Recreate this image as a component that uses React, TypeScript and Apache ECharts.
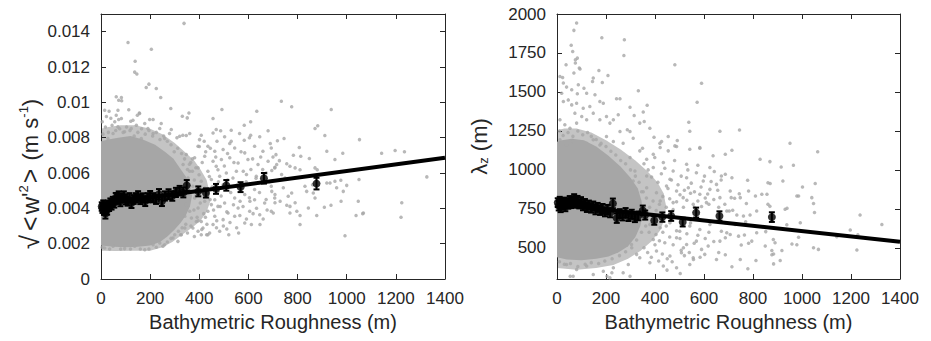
import React, { useEffect, useRef } from "react";
import * as echarts from "echarts";

const xTicks = [0, 200, 400, 600, 800, 1000, 1200, 1400];
const leftYTicks = [0, 0.002, 0.004, 0.006, 0.008, 0.01, 0.012, 0.014];
const rightYTicks = [500, 750, 1000, 1250, 1500, 1750, 2000];

const xTitle = "Bathymetric Roughness (m)";
const leftYTitle = "{sq|√}{op|<}{big|w'}{sup|2}{op|>} (m s{sup|-1})";
const rightYTitle = "λ{sub|z} (m)";

// speckled halo around the dense part of the left cloud (outline)
const leftHalo: [number, number][] = [
  [0, 0.0016], [60, 0.00158], [130, 0.0016], [200, 0.0016], [250, 0.0018], [290, 0.0021], [330, 0.0025],
  [370, 0.0029], [405, 0.0033], [430, 0.0038], [445, 0.0044], [440, 0.005], [430, 0.0056], [405, 0.0062],
  [380, 0.0067], [340, 0.0072], [300, 0.0077], [250, 0.0082], [200, 0.0085], [140, 0.0087], [80, 0.0087],
  [30, 0.0086], [0, 0.0085],
];
// dense solid core of the left cloud (outline)
const leftCore: [number, number][] = [
  [0, 0.0019], [50, 0.00182], [100, 0.0018], [150, 0.00182], [200, 0.0019], [240, 0.0021], [270, 0.0024],
  [300, 0.0028], [325, 0.0032], [345, 0.0036], [362, 0.0041], [370, 0.0047], [362, 0.0053], [345, 0.0058],
  [320, 0.0063], [295, 0.0068], [260, 0.0072], [220, 0.0076], [170, 0.0079], [120, 0.0081], [70, 0.008],
  [30, 0.0079], [0, 0.0078],
];

const leftScatter: [number, number][] = [
  [338, 0.01447], [110, 0.01339], [205, 0.01301], [139, 0.01233], [137, 0.01171], [146, 0.0116], [195, 0.01103],
  [184, 0.01084], [225, 0.01078], [243, 0.01027], [62, 0.01031], [83, 0.01027], [72, 0.01012], [84, 0.01009],
  [15, 0.00955], [33, 0.0095], [69, 0.00955], [113, 0.00958], [284, 0.00965], [156, 0.0094], [148, 0.00927],
  [331, 0.00921], [351, 0.00912], [358, 0.0094], [492, 0.00959], [456, 0.00908], [634, 0.0095], [609, 0.0089],
  [583, 0.0087], [680, 0.00839], [469, 0.00846], [487, 0.00839], [530, 0.00842], [564, 0.00823], [456, 0.00827],
  [609, 0.00814], [646, 0.00805], [689, 0.00767], [503, 0.00805], [530, 0.0078], [524, 0.00767], [583, 0.00785],
  [604, 0.008], [408, 0.00814], [401, 0.00789], [361, 0.00823], [347, 0.00812], [333, 0.00814], [286, 0.00846],
  [279, 0.00823], [309, 0.008], [320, 0.00808], [56, 0.0089], [72, 0.00903], [83, 0.00908], [62, 0.00927],
  [121, 0.00893], [130, 0.00899], [157, 0.00937], [178, 0.0088], [198, 0.00903], [212, 0.00903], [245, 0.0088],
  [239, 0.00852], [28, 0.00795], [49, 0.00823], [96, 0.00833], [123, 0.00852], [164, 0.00795], [212, 0.00823],
  [259, 0.00795], [69, 0.00861], [191, 0.00852], [144, 0.0087],
  [734, 0.01006], [776, 0.00975], [937, 0.00959], [871, 0.00852], [882, 0.00867], [911, 0.00812], [1052, 0.00789],
  [718, 0.00782], [745, 0.00795], [807, 0.00744],
  [919, 0.00723], [984, 0.00712], [1142, 0.00712], [1197, 0.00727], [1235, 0.0072], [712, 0.00704], [726, 0.0067],
  [715, 0.00648], [708, 0.00632], [783, 0.007], [813, 0.00695], [848, 0.00682], [952, 0.00676], [756, 0.00652],
  [769, 0.00638], [790, 0.00629], [810, 0.00619], [695, 0.00614], [735, 0.00591], [749, 0.00572], [871, 0.00629],
  [880, 0.00619], [1326, 0.00578], [1050, 0.00563], [919, 0.00544], [932, 0.00544], [952, 0.00553], [976, 0.00559],
  [830, 0.00525], [837, 0.00496], [861, 0.00534], [864, 0.00487], [871, 0.00459], [959, 0.00516], [986, 0.00496],
  [1000, 0.0053], [695, 0.00496], [708, 0.00478], [742, 0.00516], [776, 0.00487], [762, 0.00468], [708, 0.00431],
  [729, 0.0044], [756, 0.00417], [769, 0.00411], [790, 0.00431], [701, 0.00374], [769, 0.00374], [797, 0.00383],
  [810, 0.00359], [844, 0.00402], [878, 0.0036], [909, 0.00406], [936, 0.00417], [977, 0.0044], [1047, 0.0044],
  [1038, 0.00359], [1065, 0.0037], [1224, 0.00431], [1221, 0.00349], [810, 0.00308], [993, 0.00245],
  [395, 0.00752], [435, 0.00752], [463, 0.00723], [497, 0.00733], [544, 0.00742], [585, 0.00714], [625, 0.00752],
  [659, 0.00723], [693, 0.00742], [381, 0.00686], [422, 0.00695], [456, 0.00667], [490, 0.00676], [524, 0.00686],
  [558, 0.00657], [598, 0.00676], [639, 0.00648], [680, 0.00667], [707, 0.00629], [395, 0.00629], [435, 0.0061],
  [476, 0.00619], [510, 0.006], [551, 0.0061], [592, 0.00591], [632, 0.00582], [673, 0.006], [354, 0.00572],
  [408, 0.00553], [449, 0.00563], [497, 0.00534], [537, 0.00572], [381, 0.00459], [422, 0.0044], [463, 0.00449],
  [503, 0.0043], [544, 0.00459], [585, 0.00478], [625, 0.00449], [666, 0.0043], [707, 0.00459], [395, 0.00402],
  [435, 0.00383], [476, 0.00411], [517, 0.00374], [558, 0.00402], [605, 0.00383], [646, 0.00364], [693, 0.00383],
  [368, 0.00345], [408, 0.00326], [456, 0.00308], [497, 0.00336], [544, 0.00355], [585, 0.00317], [612, 0.00308],
  [341, 0.00289], [395, 0.0027], [435, 0.00251], [483, 0.0027], [327, 0.00251], [313, 0.00213], [293, 0.00232],
  [259, 0.00194], [239, 0.00204], [571, 0.00515], [625, 0.00506], [693, 0.00525], [476, 0.00497], [435, 0.00487],
  [334, 0.00648], [347, 0.00705], [361, 0.0061], [374, 0.00525], [347, 0.00421], [361, 0.00383], [388, 0.00326],
  [415, 0.00289], [341, 0.00355], [327, 0.0044], [320, 0.00534], [334, 0.00478], [374, 0.00289], [408, 0.00251],
  [422, 0.00515], [449, 0.00421], [463, 0.00355], [483, 0.00582], [469, 0.00638],
  [15, 0.00176], [49, 0.00185], [96, 0.00172], [137, 0.00185], [178, 0.00166], [212, 0.00194], [252, 0.00185],
  [430, 0.0025], [512, 0.00283], [647, 0.00308], [324, 0.00251], [1068, 0.00374],
  [372, 0.0068], [386, 0.0063], [399, 0.0059], [412, 0.0066], [426, 0.0072], [441, 0.0058], [452, 0.0052],
  [467, 0.0069], [478, 0.0055], [489, 0.0047], [502, 0.0064], [515, 0.0056], [528, 0.0049], [541, 0.0066],
  [553, 0.0053], [566, 0.0044], [579, 0.0061], [591, 0.0055], [604, 0.0046], [617, 0.0068], [631, 0.0057],
  [645, 0.0049], [658, 0.0062], [672, 0.0045], [686, 0.0055],
  [378, 0.0039], [391, 0.0035], [404, 0.0043], [418, 0.0037], [431, 0.0031], [444, 0.0045], [458, 0.0039],
  [471, 0.0033], [485, 0.0041], [498, 0.003], [512, 0.0038], [525, 0.0032], [539, 0.0042], [552, 0.0029],
  [565, 0.0036], [578, 0.0041], [592, 0.0034], [606, 0.0044], [619, 0.0037], [633, 0.004], [660, 0.0034], [676, 0.0039],
  [352, 0.0026], [366, 0.003], [380, 0.0024], [395, 0.0033], [410, 0.0028], [425, 0.0035], [442, 0.0026],
  [470, 0.0029], [520, 0.0025], [560, 0.0026],
  [365, 0.0066], [352, 0.0062], [340, 0.0068], [328, 0.0071], [312, 0.0074], [298, 0.0072], [285, 0.0076],
  [270, 0.0078], [255, 0.0081], [240, 0.0079], [225, 0.0083], [210, 0.0081], [195, 0.0084], [180, 0.0082],
  [165, 0.0085], [150, 0.0083], [135, 0.0081], [118, 0.0084], [104, 0.0086], [90, 0.0083], [76, 0.0085],
  [60, 0.0084], [45, 0.0087], [30, 0.0083], [18, 0.0086], [8, 0.0082], [5, 0.0089], [22, 0.0092], [40, 0.0091],
  [385, 0.0047], [392, 0.0052], [380, 0.0056], [372, 0.0061], [360, 0.0065],
  [270, 0.0021], [285, 0.0023], [300, 0.0025], [315, 0.0027], [330, 0.0029], [345, 0.0031], [225, 0.0018],
  [195, 0.0017], [160, 0.0017], [120, 0.0017], [80, 0.0017], [35, 0.0017], [5, 0.0018],
  [400, 0.0075], [420, 0.0078], [445, 0.0074], [472, 0.0078], [515, 0.0071], [570, 0.0072], [610, 0.0062],
  [650, 0.0069], [700, 0.0069],
];

const leftBinX = [3, 6, 9, 12, 15, 18, 21, 25, 29, 33, 38, 43, 48, 54, 60, 66, 72, 79, 86, 93, 100, 108, 116, 124, 133,
  142, 151, 160, 170, 180, 190, 200, 212, 224, 236, 248, 260, 275, 290, 305, 320, 335, 349, 396, 427, 468, 510, 568, 663, 877];
const leftBinY = [0.0041, 0.004, 0.0042, 0.0039, 0.0041, 0.0037, 0.004, 0.0039, 0.0042, 0.0041,
  0.0043, 0.0042, 0.0044, 0.0043, 0.0046, 0.0045, 0.0047, 0.0044, 0.0046, 0.0047,
  0.0045, 0.0044, 0.0046, 0.0043, 0.0045, 0.0046, 0.0047, 0.0045, 0.0046, 0.0044,
  0.0046, 0.0047, 0.0046, 0.0045, 0.0048, 0.0044, 0.0047, 0.0048, 0.0047, 0.0049,
  0.005, 0.0049, 0.0053, 0.00496, 0.00487, 0.0051, 0.0053, 0.0052, 0.0057, 0.0054];
const leftBinErr = [0.00024, 0.00026, 0.00025, 0.00027, 0.00024, 0.00028, 0.00025, 0.00026, 0.00024, 0.00025,
  0.00026, 0.00027, 0.00025, 0.00026, 0.00027, 0.00025, 0.00026, 0.00028, 0.00025, 0.00026,
  0.00027, 0.00025, 0.00026, 0.00028, 0.00025, 0.00026, 0.00027, 0.00026, 0.00025, 0.00027,
  0.00026, 0.00028, 0.00026, 0.00025, 0.00029, 0.00027, 0.00026, 0.00028, 0.00027, 0.00026,
  0.00027, 0.00028, 0.0003, 0.00028, 0.00026, 0.00028, 0.0003, 0.00028, 0.0003, 0.00033];
const leftFitX = [0, 1400];
const leftFitY = [0.00424, 0.00686];

const rightHalo: [number, number][] = [
  [0, 370], [80, 360], [160, 370], [230, 390], [290, 430], [340, 480], [385, 540], [420, 610], [440, 690],
  [445, 770], [435, 850], [410, 920], [370, 990], [320, 1060], [260, 1130], [200, 1190], [140, 1240], [80, 1265],
  [30, 1265], [0, 1255],
];
const rightCore: [number, number][] = [
  [0, 440], [40, 425], [100, 420], [160, 430], [210, 445], [250, 470], [290, 510], [320, 570], [340, 640],
  [350, 720], [345, 800], [330, 880], [300, 950], [260, 1020], [210, 1090], [160, 1150], [110, 1190], [60, 1200],
  [20, 1190], [0, 1180],
];

const rightScatter: [number, number][] = [
  [80, 1942], [69, 1895], [183, 1848], [275, 1835], [58, 1799], [64, 1760], [273, 1734], [83, 1717], [75, 1707],
  [91, 1653], [37, 1674], [481, 1674], [75, 1685], [94, 1647], [69, 1621], [171, 1638], [208, 1606], [12, 1599],
  [23, 1593], [148, 1589], [145, 1567], [185, 1561], [590, 1556], [26, 1557], [39, 1531], [60, 1514], [19, 1492],
  [87, 1546], [110, 1524], [121, 1492], [83, 1488], [332, 1507], [243, 1456], [257, 1456], [155, 1482], [175, 1439],
  [189, 1428], [572, 1434], [298, 1402], [368, 1415], [352, 1372], [315, 1349], [26, 1439], [46, 1449], [60, 1417],
  [80, 1428], [107, 1396], [134, 1407], [73, 1364], [101, 1342], [121, 1321], [148, 1364], [12, 1321], [32, 1289],
  [53, 1267], [80, 1300], [175, 1321], [202, 1342], [216, 1300], [230, 1321], [250, 1353], [338, 1300], [356, 1310],
  [379, 1267], [538, 1306], [542, 1248], [665, 1248], [257, 1246], [298, 1246], [287, 1257], [396, 1210], [427, 1182],
  [420, 1171], [454, 1214], [491, 1188], [311, 1203], [270, 1171], [230, 1182], [202, 1214], [175, 1160], [148, 1193],
  [121, 1171], [66, 1182], [39, 1160], [12, 1193], [583, 1139], [488, 1150], [349, 1139],
  [714, 1126], [1064, 1117], [687, 1100], [829, 1068], [869, 1053], [915, 1019], [965, 1030], [687, 972], [714, 950],
  [778, 933], [861, 918], [870, 912], [922, 929], [1002, 890], [1054, 912], [707, 865], [744, 847], [782, 865],
  [810, 833], [836, 843], [857, 843], [711, 822], [725, 818], [748, 822], [773, 784], [979, 833], [986, 833],
  [1040, 822], [931, 747], [939, 754], [1047, 784], [1051, 726], [693, 736], [703, 736], [717, 741], [734, 711],
  [761, 704], [788, 711], [815, 736], [861, 779], [869, 766], [687, 661], [727, 650], [770, 667], [938, 648],
  [993, 661], [1237, 711], [1326, 650], [1197, 615], [1228, 583], [693, 597], [707, 586], [687, 565], [741, 575],
  [765, 582], [752, 518], [782, 529], [815, 597], [852, 604], [795, 543], [883, 554], [890, 533], [986, 568],
  [959, 525], [979, 520], [1047, 500], [1067, 490], [1224, 486], [850, 511], [877, 483], [884, 461], [918, 483],
  [877, 456], [687, 456], [748, 425], [812, 418], [911, 418], [884, 397], [779, 366], [714, 379], [1142, 571],
  [745, 1256], [951, 1171],
  [338, 1122], [366, 1068], [393, 1100], [421, 1143], [454, 1122], [481, 1154], [542, 1132], [583, 1143], [637, 1090],
  [393, 1015], [434, 1047], [474, 993], [529, 1036], [569, 982], [624, 1015], [671, 961], [366, 961], [461, 940],
  [529, 950], [597, 929], [651, 907], [366, 886], [406, 854], [447, 897], [488, 865], [536, 886], [583, 843],
  [624, 875], [665, 822], [421, 800], [474, 790], [515, 822], [556, 779], [610, 790], [685, 779],
  [379, 650], [421, 629], [461, 661], [501, 607], [542, 640], [583, 618], [624, 650], [671, 607],
  [393, 554], [440, 532], [488, 565], [529, 522], [569, 543], [617, 511], [665, 543],
  [406, 479], [461, 447], [508, 468], [556, 436], [603, 458], [651, 425],
  [338, 436], [379, 404], [434, 383], [488, 372], [542, 393],
  [39, 393], [80, 361], [121, 383], [66, 318], [148, 329], [189, 350], [230, 372], [270, 340], [298, 318], [216, 308],
  [298, 1079], [318, 993], [304, 522], [325, 458], [291, 393], [311, 929],
  [54, 318], [204, 318], [224, 340], [503, 335], [449, 357], [557, 425], [584, 440], [507, 485],
  [355, 1040], [372, 1000], [386, 955], [399, 1080], [412, 920], [426, 975], [440, 1010], [453, 880], [467, 935],
  [480, 1060], [494, 905], [507, 960], [520, 870], [534, 1000], [548, 915], [561, 860], [575, 1030], [588, 890],
  [602, 960], [615, 845], [629, 925], [642, 990], [656, 870], [670, 935],
  [352, 860], [365, 820], [378, 760], [392, 800], [405, 740], [418, 780], [432, 830], [446, 760], [460, 815],
  [474, 745], [488, 795], [502, 840], [516, 760], [530, 805], [545, 850], [560, 760], [575, 800], [590, 765],
  [605, 820], [620, 780], [640, 810], [660, 760],
  [350, 690], [362, 640], [376, 600], [390, 660], [404, 585], [418, 545], [432, 600], [446, 640], [460, 570],
  [474, 520], [488, 610], [502, 560], [516, 500], [530, 590], [545, 660], [560, 530], [575, 580], [590, 490],
  [605, 560], [620, 600], [640, 540], [660, 470],
  [355, 500], [370, 470], [385, 440], [400, 520], [415, 415], [430, 460], [450, 430], [470, 410], [520, 450], [540, 470],
  [10, 1250], [25, 1220], [45, 1240], [65, 1215], [85, 1250], [105, 1225], [125, 1240], [140, 1215], [160, 1195],
  [180, 1170], [200, 1150], [220, 1120], [240, 1095], [260, 1060], [280, 1040], [300, 1000], [320, 960], [335, 920],
  [345, 860],
  [10, 410], [30, 395], [55, 400], [85, 380], [115, 395], [140, 405], [170, 400], [195, 415], [225, 430], [255, 450],
  [280, 475], [305, 500], [325, 550], [345, 600],
];

const rightBinX = [3, 7, 11, 15, 19, 24, 29, 34, 40, 46, 52, 58, 64, 70, 77, 84, 91, 98, 106, 114, 122, 130, 139, 148,
  157, 166, 176, 186, 196, 206, 217, 228, 244, 256, 268, 280, 292, 305, 318, 332, 350, 360, 397, 430, 466, 513, 568, 663, 877];
const rightBinY = [790, 770, 800, 760, 785, 775, 795, 765, 790, 780, 805, 785, 800, 815, 790, 805, 780, 795, 770, 785,
  760, 775, 755, 770, 745, 760, 740, 750, 730, 745, 725, 785, 690, 720, 705, 725, 700, 715, 695, 705,
  740, 710, 676, 697, 704, 665, 726, 704, 697];
const rightBinErr = [28, 30, 27, 31, 28, 29, 27, 30, 28, 29, 27, 30, 28, 29, 31, 28, 27, 30, 29, 28,
  30, 28, 29, 27, 30, 28, 29, 31, 28, 30, 29, 31, 30, 28, 29, 30, 28, 29, 30, 28,
  31, 29, 28, 30, 31, 28, 32, 30, 31];
const rightFitX = [0, 1400];
const rightFitY = [778, 539];

const GRAY = "#a6a6a6";
const HALO = "#c4c4c4";
const AX = "#262626";
const FONT = "'Liberation Sans', Arial, Helvetica, sans-serif";

function polySeries(poly: [number, number][], idx: number, fill: string, z: number) {
  return {
    type: "custom",
    xAxisIndex: idx * 2,
    yAxisIndex: idx * 2,
    data: poly,
    encode: { x: 0, y: 1 },
    silent: true,
    z,
    renderItem: (params: any, api: any) => {
      if (params.dataIndex !== 0) return null;
      const pts = poly.map((p) => api.coord(p));
      return { type: "polygon", shape: { points: pts }, style: { fill } };
    },
  };
}

function errSeries(xs: number[], ys: number[], es: number[], idx: number) {
  return {
    type: "custom",
    xAxisIndex: idx * 2,
    yAxisIndex: idx * 2,
    data: xs.map((x, i) => [x, ys[i], es[i]]),
    encode: { x: 0, y: 1 },
    silent: true,
    z: 4,
    renderItem: (params: any, api: any) => {
      const x = api.value(0);
      const y = api.value(1);
      const e = api.value(2);
      const t = api.coord([x, y + e]);
      const b = api.coord([x, y - e]);
      const st = { stroke: "#000", lineWidth: 2 };
      const c = 3;
      return {
        type: "group",
        children: [
          { type: "line", shape: { x1: t[0], y1: t[1], x2: b[0], y2: b[1] }, style: st },
          { type: "line", shape: { x1: t[0] - c, y1: t[1], x2: t[0] + c, y2: t[1] }, style: st },
          { type: "line", shape: { x1: b[0] - c, y1: b[1], x2: b[0] + c, y2: b[1] }, style: st },
        ],
      };
    },
  };
}

const plain = (v: number) => String(v);

function xAxes(gridIndex: number) {
  const common = {
    gridIndex,
    type: "value",
    min: 0,
    max: 1400,
    splitLine: { show: false },
    axisLine: { show: true, onZero: false, lineStyle: { color: AX, width: 1 } },
    axisTick: { show: true, inside: true, length: 5, customValues: xTicks, lineStyle: { color: AX } },
  };
  return [
    {
      ...common,
      position: "bottom",
      name: xTitle,
      nameLocation: "middle",
      nameGap: 29,
      nameTextStyle: { fontSize: 20, color: AX, fontFamily: FONT },
      axisLabel: { customValues: xTicks, formatter: plain, fontSize: 17, color: AX, fontFamily: FONT, margin: 11 },
    },
    { ...common, position: "top", axisLabel: { show: false } },
  ];
}

function yAxes(gridIndex: number, min: number, max: number, ticks: number[], name: string, gap: number, rich: any, padding: number[]) {
  const common = {
    gridIndex,
    type: "value",
    min,
    max,
    splitLine: { show: false },
    axisLine: { show: true, onZero: false, lineStyle: { color: AX, width: 1 } },
    axisTick: { show: true, inside: true, length: 5, customValues: ticks, lineStyle: { color: AX } },
  };
  return [
    {
      ...common,
      position: "left",
      name,
      nameLocation: "middle",
      nameGap: gap,
      nameTextStyle: { fontSize: 22, color: AX, fontFamily: FONT, rich, padding },
      axisLabel: { customValues: ticks, formatter: plain, fontSize: 17, color: AX, fontFamily: FONT, margin: 11 },
    },
    { ...common, position: "right", axisLabel: { show: false } },
  ];
}

export default function App() {
  const ref = useRef<HTMLDivElement>(null);
  useEffect(() => {
    if (!ref.current) return;
    const chart = echarts.init(ref.current, undefined, { renderer: "svg" });
    const option: any = {
      animation: false,
      backgroundColor: "#ffffff",
      textStyle: { fontFamily: FONT },
      grid: [
        { left: 101, top: 14, width: 344, height: 265 },
        { left: 557, top: 14, width: 343, height: 265 },
      ],
      xAxis: [...xAxes(0), ...xAxes(1)],
      yAxis: [
        ...yAxes(0, 0, 0.015, leftYTicks, leftYTitle, 58, {
          sup: { fontSize: 13, verticalAlign: "top", color: AX, fontFamily: FONT },
          sq: { fontSize: 26, color: AX, fontFamily: FONT, padding: [0, 2, 0, 0] },
          op: { fontSize: 25, color: AX, fontFamily: FONT, padding: [0, 2, 0, 2] },
          big: { fontSize: 24, color: AX, fontFamily: FONT },
        }, [0, 55, 0, 0]),
        ...yAxes(1, 300, 2000, rightYTicks, rightYTitle, 67, {
          sub: { fontSize: 13, verticalAlign: "bottom", color: AX, fontFamily: FONT },
        }, [0, 0, 0, 0]),
      ],
      series: [
        polySeries(leftHalo, 0, HALO, 0),
        polySeries(leftCore, 0, GRAY, 1),
        {
          type: "scatter", xAxisIndex: 0, yAxisIndex: 0, data: leftScatter, symbolSize: 3.5,
          itemStyle: { color: GRAY }, silent: true, z: 2,
        },
        {
          type: "line", xAxisIndex: 0, yAxisIndex: 0, data: leftFitX.map((x, i) => [x, leftFitY[i]]),
          symbol: "none", lineStyle: { color: "#000", width: 4 }, silent: true, z: 3,
        },
        errSeries(leftBinX, leftBinY, leftBinErr, 0),
        {
          type: "scatter", xAxisIndex: 0, yAxisIndex: 0, data: leftBinX.map((x, i) => [x, leftBinY[i]]),
          symbolSize: 8, itemStyle: { color: "#000" }, silent: true, z: 5,
        },
        polySeries(rightHalo, 1, HALO, 0),
        polySeries(rightCore, 1, GRAY, 1),
        {
          type: "scatter", xAxisIndex: 2, yAxisIndex: 2, data: rightScatter, symbolSize: 3.5,
          itemStyle: { color: GRAY }, silent: true, z: 2,
        },
        {
          type: "line", xAxisIndex: 2, yAxisIndex: 2, data: rightFitX.map((x, i) => [x, rightFitY[i]]),
          symbol: "none", lineStyle: { color: "#000", width: 4 }, silent: true, z: 3,
        },
        errSeries(rightBinX, rightBinY, rightBinErr, 1),
        {
          type: "scatter", xAxisIndex: 2, yAxisIndex: 2, data: rightBinX.map((x, i) => [x, rightBinY[i]]),
          symbolSize: 8, itemStyle: { color: "#000" }, silent: true, z: 5,
        },
      ],
    };
    chart.setOption(option);
    return () => chart.dispose();
  }, []);
  return (
    <div
      ref={ref}
      style={{ position: "fixed", left: 0, top: 0, width: 931, height: 341, background: "#fff" }}
    />
  );
}
